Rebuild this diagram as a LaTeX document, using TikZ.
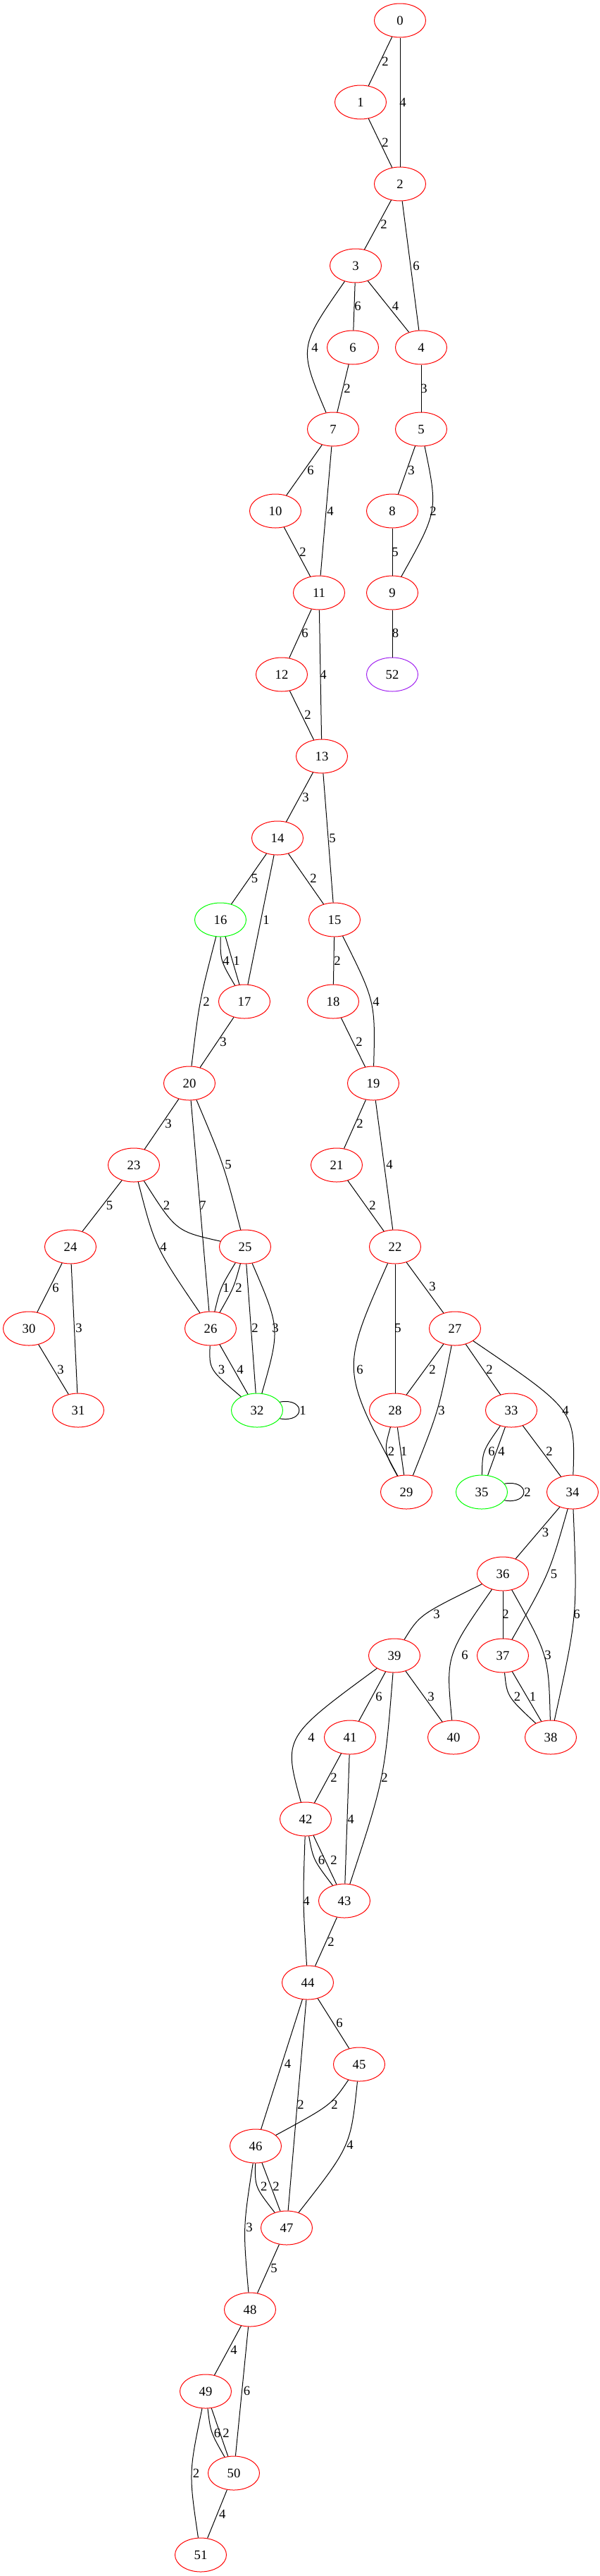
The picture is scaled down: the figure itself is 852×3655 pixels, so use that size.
\documentclass[tikz,border=0pt]{standalone}
\usepackage{fontspec}
\setmainfont{Liberation Serif}
\usetikzlibrary{shapes.geometric}
\definecolor{gvpurple}{RGB}{160,32,240}
\begin{document}
\begin{tikzpicture}[x=0.75pt,y=-0.75pt,
  vtx/.style={ellipse,draw=red,line width=0.75pt,minimum width=54.75pt,minimum height=36pt,inner sep=0pt,font=\fontsize{14}{16}\selectfont},
  grn/.style={vtx,draw=green},
  prp/.style={vtx,draw=gvpurple},
  lab/.style={inner sep=0pt,font=\fontsize{14}{16}\selectfont},
  con/.style={line width=0.75pt,black}]
\useasboundingbox (0,0) rectangle (852,3655);
% vertices
\node[vtx] (n0) at (568,29) {0};
\node[vtx] (n1) at (512,145) {1};
\node[vtx] (n2) at (568,261) {2};
\node[vtx] (n3) at (505,377) {3};
\node[vtx] (n6) at (501,493) {6};
\node[vtx] (n4) at (598,493) {4};
\node[vtx] (n7) at (473,609) {7};
\node[vtx] (n5) at (598,609) {5};
\node[vtx] (n10) at (391,725) {10};
\node[vtx] (n8) at (557,725) {8};
\node[vtx] (n11) at (453,841) {11};
\node[vtx] (n9) at (557,841) {9};
\node[vtx] (n12) at (400,957) {12};
\node[prp] (n52) at (557,957) {52};
\node[vtx] (n13) at (457,1073) {13};
\node[vtx] (n14) at (394,1189) {14};
\node[grn] (n16) at (313,1305) {16};
\node[vtx] (n15) at (475,1305) {15};
\node[vtx] (n17) at (347,1421) {17};
\node[vtx] (n18) at (473,1421) {18};
\node[vtx] (n20) at (269,1537) {20};
\node[vtx] (n19) at (530,1537) {19};
\node[vtx] (n23) at (190,1653) {23};
\node[vtx] (n21) at (478,1653) {21};
\node[vtx] (n24) at (100,1769) {24};
\node[vtx] (n25) at (348,1769) {25};
\node[vtx] (n22) at (561,1769) {22};
\node[vtx] (n30) at (41,1885) {30};
\node[vtx] (n26) at (299,1885) {26};
\node[vtx] (n27) at (646,1885) {27};
\node[vtx] (n31) at (111,2001) {31};
\node[grn] (n32) at (365,2001) {32};
\node[vtx] (n28) at (561,2001) {28};
\node[vtx] (n33) at (726,2001) {33};
\node[vtx] (n29) at (577,2117) {29};
\node[grn] (n35) at (684,2117) {35};
\node[vtx] (n34) at (813,2117) {34};
\node[vtx] (n36) at (714,2233) {36};
\node[vtx] (n39) at (560,2349) {39};
\node[vtx] (n37) at (714,2349) {37};
\node[vtx] (n41) at (497,2465) {41};
\node[vtx] (n40) at (644,2465) {40};
\node[vtx] (n38) at (782,2465) {38};
\node[vtx] (n42) at (434,2581) {42};
\node[vtx] (n43) at (489,2697) {43};
\node[vtx] (n44) at (437,2813) {44};
\node[vtx] (n45) at (510,2929) {45};
\node[vtx] (n46) at (363,3045) {46};
\node[vtx] (n47) at (407,3161) {47};
\node[vtx] (n48) at (355,3277) {48};
\node[vtx] (n49) at (292,3393) {49};
\node[vtx] (n50) at (332,3509) {50};
\node[vtx] (n51) at (285,3625) {51};
% edges
\draw[con] (n0) -- (n1);
\draw[con] (n0) -- (n2);
\draw[con] (n1) -- (n2);
\draw[con] (n2) -- (n3);
\draw[con] (n2) -- (n4);
\draw[con] (n3) -- (n6);
\draw[con] (n3) -- (n4);
\draw[con] (n3) .. controls (424,493) .. (n7);
\draw[con] (n6) -- (n7);
\draw[con] (n4) -- (n5);
\draw[con] (n7) -- (n10);
\draw[con] (n7) -- (n11);
\draw[con] (n5) -- (n8);
\draw[con] (n5) .. controls (622,725) .. (n9);
\draw[con] (n10) -- (n11);
\draw[con] (n8) -- (n9);
\draw[con] (n11) -- (n12);
\draw[con] (n11) -- (n13);
\draw[con] (n9) -- (n52);
\draw[con] (n12) -- (n13);
\draw[con] (n13) -- (n14);
\draw[con] (n13) -- (n15);
\draw[con] (n14) -- (n16);
\draw[con] (n14) -- (n17);
\draw[con] (n14) -- (n15);
\draw[con] (n16) .. controls (313,1363) .. (n17);
\draw[con] (n16) -- (n17);
\draw[con] (n16) .. controls (283,1421) .. (n20);
\draw[con] (n15) -- (n18);
\draw[con] (n15) .. controls (533,1421) .. (n19);
\draw[con] (n17) -- (n20);
\draw[con] (n18) -- (n19);
\draw[con] (n20) -- (n23);
\draw[con] (n20) -- (n26);
\draw[con] (n20) .. controls (318,1653) .. (n25);
\draw[con] (n19) -- (n21);
\draw[con] (n19) -- (n22);
\draw[con] (n23) -- (n24);
\draw[con] (n23) .. controls (250,1747) .. (n25);
\draw[con] (n23) .. controls (220,1769) .. (n26);
\draw[con] (n21) -- (n22);
\draw[con] (n24) -- (n30);
\draw[con] (n24) -- (n31);
\draw[con] (n25) .. controls (313,1827) .. (n26);
\draw[con] (n25) .. controls (332,1827) .. (n26);
\draw[con] (n25) -- (n32);
\draw[con] (n25) .. controls (398,1885) .. (n32);
\draw[con] (n22) .. controls (484,1943) .. (n29);
\draw[con] (n22) -- (n28);
\draw[con] (n22) -- (n27);
\draw[con] (n30) -- (n31);
\draw[con] (n26) .. controls (297,1943) .. (n32);
\draw[con] (n26) -- (n32);
\draw[con] (n32.20) .. controls (434,1983) and (434,2019) .. (n32.-20);
\draw[con] (n27) -- (n28);
\draw[con] (n27) .. controls (623,2001) .. (n29);
\draw[con] (n27) -- (n33);
\draw[con] (n27) .. controls (817,2001) .. (n34);
\draw[con] (n28) .. controls (545,2059) .. (n29);
\draw[con] (n28) -- (n29);
\draw[con] (n33) .. controls (685,2059) .. (n35);
\draw[con] (n33) -- (n35);
\draw[con] (n33) -- (n34);
\draw[con] (n35.20) .. controls (753,2099) and (753,2135) .. (n35.-20);
\draw[con] (n34) -- (n36);
\draw[con] (n34) .. controls (780,2233) .. (n37);
\draw[con] (n34) .. controls (820,2291) .. (n38);
\draw[con] (n36) .. controls (596,2291) .. (n39);
\draw[con] (n36) .. controls (633,2349) .. (n40);
\draw[con] (n36) -- (n37);
\draw[con] (n36) .. controls (779,2349) .. (n38);
\draw[con] (n37) .. controls (720,2407) .. (n38);
\draw[con] (n37) -- (n38);
\draw[con] (n39) .. controls (402,2465) .. (n42);
\draw[con] (n39) -- (n41);
\draw[con] (n39) .. controls (546,2523) .. (n43);
\draw[con] (n39) -- (n40);
\draw[con] (n41) -- (n42);
\draw[con] (n41) -- (n43);
\draw[con] (n42) .. controls (445,2639) .. (n43);
\draw[con] (n42) -- (n43);
\draw[con] (n42) .. controls (430,2697) .. (n44);
\draw[con] (n43) -- (n44);
\draw[con] (n44) -- (n46);
\draw[con] (n44) -- (n47);
\draw[con] (n44) -- (n45);
\draw[con] (n45) .. controls (470,2987) .. (n46);
\draw[con] (n45) .. controls (498,3045) .. (n47);
\draw[con] (n46) .. controls (362,3103) .. (n47);
\draw[con] (n46) -- (n47);
\draw[con] (n46) .. controls (345,3161) .. (n48);
\draw[con] (n47) -- (n48);
\draw[con] (n48) -- (n49);
\draw[con] (n48) -- (n50);
\draw[con] (n49) .. controls (299,3451) .. (n50);
\draw[con] (n49) -- (n50);
\draw[con] (n49) .. controls (268,3509) .. (n51);
\draw[con] (n50) -- (n51);
% edge labels
\node[lab] (l1) at (547,87) {2};
\node[lab] (l2) at (572,145) {4};
\node[lab] (l3) at (547,202) {2};
\node[lab] (l4) at (545,318) {2};
\node[lab] (l5) at (591,377) {6};
\node[lab] (l6) at (508,434) {6};
\node[lab] (l7) at (561.5,434) {4};
\node[lab] (l8) at (447,493) {4};
\node[lab] (l9) at (493,551) {2};
\node[lab] (l10) at (602,551) {3};
\node[lab] (l11) at (441,667) {6};
\node[lab] (l12) at (469,725) {4};
\node[lab] (l13) at (584,667) {3};
\node[lab] (l14) at (615,725) {2};
\node[lab] (l15) at (430,783) {2};
\node[lab] (l16) at (561,783) {5};
\node[lab] (l17) at (433,898) {6};
\node[lab] (l18) at (459,957) {4};
\node[lab] (l19) at (561.5,898) {8};
\node[lab] (l20) at (437,1014) {2};
\node[lab] (l21) at (434,1131) {3};
\node[lab] (l22) at (472,1189) {5};
\node[lab] (l23) at (361.6,1246) {5};
\node[lab] (l24) at (378,1305) {1};
\node[lab] (l25) at (445,1246) {2};
\node[lab] (l26) at (321,1363) {4};
\node[lab] (l27) at (336,1363) {1};
\node[lab] (l28) at (293,1421) {2};
\node[lab] (l29) at (479,1363) {2};
\node[lab] (l30) at (534,1421) {4};
\node[lab] (l31) at (317,1478) {3};
\node[lab] (l32) at (510,1478) {2};
\node[lab] (l33) at (239,1594) {3};
\node[lab] (l34) at (288,1710) {7};
\node[lab] (l35) at (324,1652) {5};
\node[lab] (l36) at (511,1594) {2};
\node[lab] (l37) at (553,1652) {4};
\node[lab] (l38) at (155.6,1710) {5};
\node[lab] (l39) at (236.5,1710) {2};
\node[lab] (l40) at (232,1769) {4};
\node[lab] (l41) at (529,1710) {2};
\node[lab] (l42) at (79,1827) {6};
\node[lab] (l43) at (112,1884) {3};
\node[lab] (l44) at (321,1827) {1};
\node[lab] (l45) at (339,1827) {2};
\node[lab] (l46) at (362,1884) {2};
\node[lab] (l47) at (391,1884) {3};
\node[lab] (l48) at (511,1943) {6};
\node[lab] (l49) at (565,1884) {5};
\node[lab] (l50) at (614,1825) {3};
\node[lab] (l51) at (86,1943) {3};
\node[lab] (l52) at (314.5,1943) {3};
\node[lab] (l53) at (341,1943) {4};
\node[lab] (l54) at (430,2001) {1};
\node[lab] (l55) at (614,1943) {2};
\node[lab] (l56) at (627,2001) {3};
\node[lab] (l57) at (695,1943) {2};
\node[lab] (l58) at (803,2001) {4};
\node[lab] (l59) at (555.5,2059) {2};
\node[lab] (l60) at (573.5,2059) {1};
\node[lab] (l61) at (698,2059) {6};
\node[lab] (l62) at (712,2059) {4};
\node[lab] (l63) at (780,2059) {2};
\node[lab] (l64) at (749,2117) {2};
\node[lab] (l65) at (774.5,2174) {3};
\node[lab] (l66) at (786.5,2233) {5};
\node[lab] (l67) at (819,2290) {6};
\node[lab] (l68) at (620,2290) {3};
\node[lab] (l69) at (660,2348) {6};
\node[lab] (l70) at (718,2290) {2};
\node[lab] (l71) at (778,2348) {3};
\node[lab] (l72) at (734.6,2407) {2};
\node[lab] (l73) at (756.5,2407) {1};
\node[lab] (l74) at (442,2465) {4};
\node[lab] (l75) at (538,2407) {6};
\node[lab] (l76) at (546,2522) {2};
\node[lab] (l77) at (612,2407) {3};
\node[lab] (l78) at (474,2522) {2};
\node[lab] (l79) at (498,2581) {4};
\node[lab] (l80) at (456.5,2639) {6};
\node[lab] (l81) at (474,2639) {2};
\node[lab] (l82) at (435,2697) {4};
\node[lab] (l83) at (470,2755) {2};
\node[lab] (l84) at (408.5,2928) {4};
\node[lab] (l85) at (427,2986) {2};
\node[lab] (l86) at (482,2870) {6};
\node[lab] (l87) at (475,2986) {2};
\node[lab] (l88) at (497,3043) {4};
\node[lab] (l89) at (374.7,3102) {2};
\node[lab] (l90) at (392,3102) {2};
\node[lab] (l91) at (354,3160) {3};
\node[lab] (l92) at (389,3218) {5};
\node[lab] (l93) at (332,3334) {4};
\node[lab] (l94) at (350.6,3392) {6};
\node[lab] (l95) at (308.6,3452) {6};
\node[lab] (l96) at (321,3452) {2};
\node[lab] (l97) at (278.5,3509) {2};
\node[lab] (l98) at (315.7,3567) {4};
\end{tikzpicture}
\end{document}
